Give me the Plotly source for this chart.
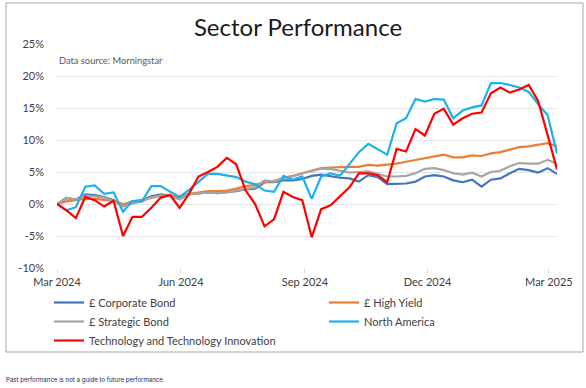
import pandas as pd
import plotly.graph_objects as go

# ---- data (weekly cumulative performance, %) ----
dates = pd.date_range("2024-03-01", periods=54, freq="7D")

corporate_bond = [0, 0.9, 0.7, 1.5, 1.4, 1.1, 0.6, -0.2, 0.4, 0.6,
                  1.2, 1.5, 1.3, 0.9, 1.5, 1.7, 1.8, 1.7, 1.8, 2.0,
                  2.3, 2.4, 3.4, 3.4, 3.7, 3.7, 3.9, 4.4, 4.6, 4.3,
                  4.1, 4.0, 3.5, 4.5, 4.2, 3.1, 3.1, 3.2, 3.5, 4.3,
                  4.5, 4.3, 3.7, 3.4, 3.8, 2.7, 3.8, 4.0, 4.8, 5.5,
                  5.3, 4.9, 5.6, 4.7]
high_yield = [0, 0.4, 0.6, 0.8, 0.8, 0.7, 0.5, 0.0, 0.3, 0.6,
              1.0, 1.3, 1.3, 1.2, 1.6, 1.8, 2.0, 2.0, 2.1, 2.4,
              2.8, 3.0, 3.4, 3.6, 4.1, 4.4, 4.8, 5.2, 5.6, 5.7,
              5.8, 5.8, 5.8, 6.1, 6.0, 6.1, 6.3, 6.6, 6.9, 7.2,
              7.5, 7.7, 7.3, 7.3, 7.6, 7.5, 7.9, 8.1, 8.5, 8.9,
              9.0, 9.2, 9.5, 9.0]
strategic_bond = [0, 1.0, 0.7, 1.3, 1.2, 1.0, 0.4, -0.4, 0.1, 0.4,
                  1.0, 1.3, 1.2, 0.7, 1.5, 1.7, 1.8, 1.7, 1.8, 2.1,
                  2.4, 2.6, 3.7, 3.5, 4.0, 4.3, 4.8, 5.1, 5.5, 5.5,
                  5.2, 4.9, 5.0, 5.1, 4.7, 4.3, 4.3, 4.4, 4.8, 5.5,
                  5.6, 5.3, 4.8, 4.6, 4.9, 4.3, 5.0, 5.2, 5.9, 6.4,
                  6.3, 6.3, 6.9, 6.3]
north_america = [0, -1.0, -0.5, 2.7, 2.9, 1.6, 1.8, -1.2, 0.5, 0.4,
                 2.8, 2.8, 1.9, 1.1, 2.2, 3.4, 4.7, 4.7, 4.5, 4.2,
                 3.5, 3.1, 2.1, 1.9, 4.4, 3.8, 4.3, 0.8, 4.3, 4.8,
                 4.4, 6.2, 8.1, 9.4, 8.6, 7.7, 12.6, 13.4, 16.4, 16.0,
                 16.4, 16.3, 13.4, 14.6, 15.1, 15.4, 18.9, 18.9, 18.6, 18.2,
                 17.5, 15.6, 13.9, 7.9]
technology = [0, -1.0, -2.2, 1.1, 0.6, -0.4, 0.5, -5.0, -2.0, -2.0,
              -0.6, 1.0, 1.4, -0.6, 1.6, 4.3, 5.0, 5.8, 7.2, 6.2,
              2.1, 0.0, -3.5, -2.4, 1.9, 1.1, 0.6, -5.2, -0.8, -0.2,
              1.2, 2.6, 4.8, 4.8, 4.5, 3.4, 8.6, 8.2, 11.7, 10.7,
              14.1, 14.9, 12.4, 13.4, 14.1, 14.3, 17.3, 18.2, 17.4, 17.9,
              18.6, 16.1, 10.8, 5.4]

series_names = ["£ Corporate Bond", "£ High Yield", "£ Strategic Bond",
                "North America", "Technology and Technology Innovation"]
series_values = [corporate_bond, high_yield, strategic_bond, north_america, technology]
series_colors = ["#4472C4", "#ED7D31", "#A5A5A5", "#1CB1EC", "#FF0000"]

x_tick_vals = ["2024-03-01", "2024-06-01", "2024-09-01", "2024-12-01", "2025-03-01"]
x_tick_text = ["Mar 2024", "Jun 2024", "Sep 2024", "Dec 2024", "Mar 2025"]
y_tick_vals = [-10, -5, 0, 5, 10, 15, 20, 25]
y_tick_text = ["-10%", "-5%", "0%", "5%", "10%", "15%", "20%", "25%"]

FONT = "Lato"

fig = go.Figure()
for name, vals, col in zip(series_names, series_values, series_colors):
    fig.add_trace(go.Scatter(x=dates, y=vals, name=name, mode="lines",
                             line=dict(color=col, width=2.2)))

# plot area in pixels: x 57..557, y 44..268
W, H = 586, 388
L, R, T, B = 57, 557, 44, 268

def px_x(p):
    return (p - L) / (R - L)

def px_y(p):
    return (B - p) / (B - T)

fig.update_layout(
    width=W, height=H, autosize=False,
    margin=dict(l=L, r=W - R, t=T, b=H - B, pad=0, autoexpand=False),
    paper_bgcolor="white", plot_bgcolor="white",
    font=dict(family=FONT, size=11, color="#595959"),
    title=dict(text="Sector Performance", x=298 / W, xanchor="center",
               xref="container", yref="container",
               y=1 - 28 / H, yanchor="middle",
               font=dict(family=FONT, size=24, color="#1a1a1a")),
    showlegend=True,
    legend=dict(orientation="h", x=px_x(49), xanchor="left",
                y=px_y(288), yanchor="top",
                entrywidth=230, entrywidthmode="pixels",
                font=dict(family=FONT, size=11, color="#404040"),
                bgcolor="rgba(0,0,0,0)", tracegroupgap=0, traceorder="normal"),
    xaxis=dict(type="date", range=["2024-03-01", "2025-03-07"],
               tickvals=x_tick_vals, ticktext=x_tick_text,
               showgrid=False, zeroline=False, showline=False,
               ticks="outside", ticklen=4, tickcolor="#D9D9D9",
               tickfont=dict(family=FONT, size=11, color="#404040")),
    yaxis=dict(range=[-10, 25], tickvals=y_tick_vals, ticktext=y_tick_text,
               showgrid=True, gridcolor="#E3E3E3", gridwidth=1,
               zeroline=False, showline=False, ticks="",
               ticklabelstandoff=12,
               tickfont=dict(family=FONT, size=11, color="#404040")),
    shapes=[dict(type="rect", xref="paper", yref="paper",
                 x0=px_x(6), x1=px_x(583), y0=px_y(352), y1=px_y(3),
                 line=dict(color="#A6A6A6", width=1), fillcolor="rgba(0,0,0,0)",
                 layer="below")],
    annotations=[
        dict(text="Data source: Morningstar", xref="paper", yref="paper",
             x=px_x(57), y=px_y(61), xanchor="left", yanchor="middle",
             showarrow=False, font=dict(family=FONT, size=9.3, color="#595959")),
        dict(text="Past performance is not a guide to future performance.",
             xref="paper", yref="paper", x=px_x(4), y=px_y(380),
             xanchor="left", yanchor="middle", showarrow=False,
             font=dict(family="Inter", size=6.1, color="#1b1b5a")),
    ],
)

fig.write_html("out.html", config={"displayModeBar": False},
               post_script="document.body.style.margin='0';")
